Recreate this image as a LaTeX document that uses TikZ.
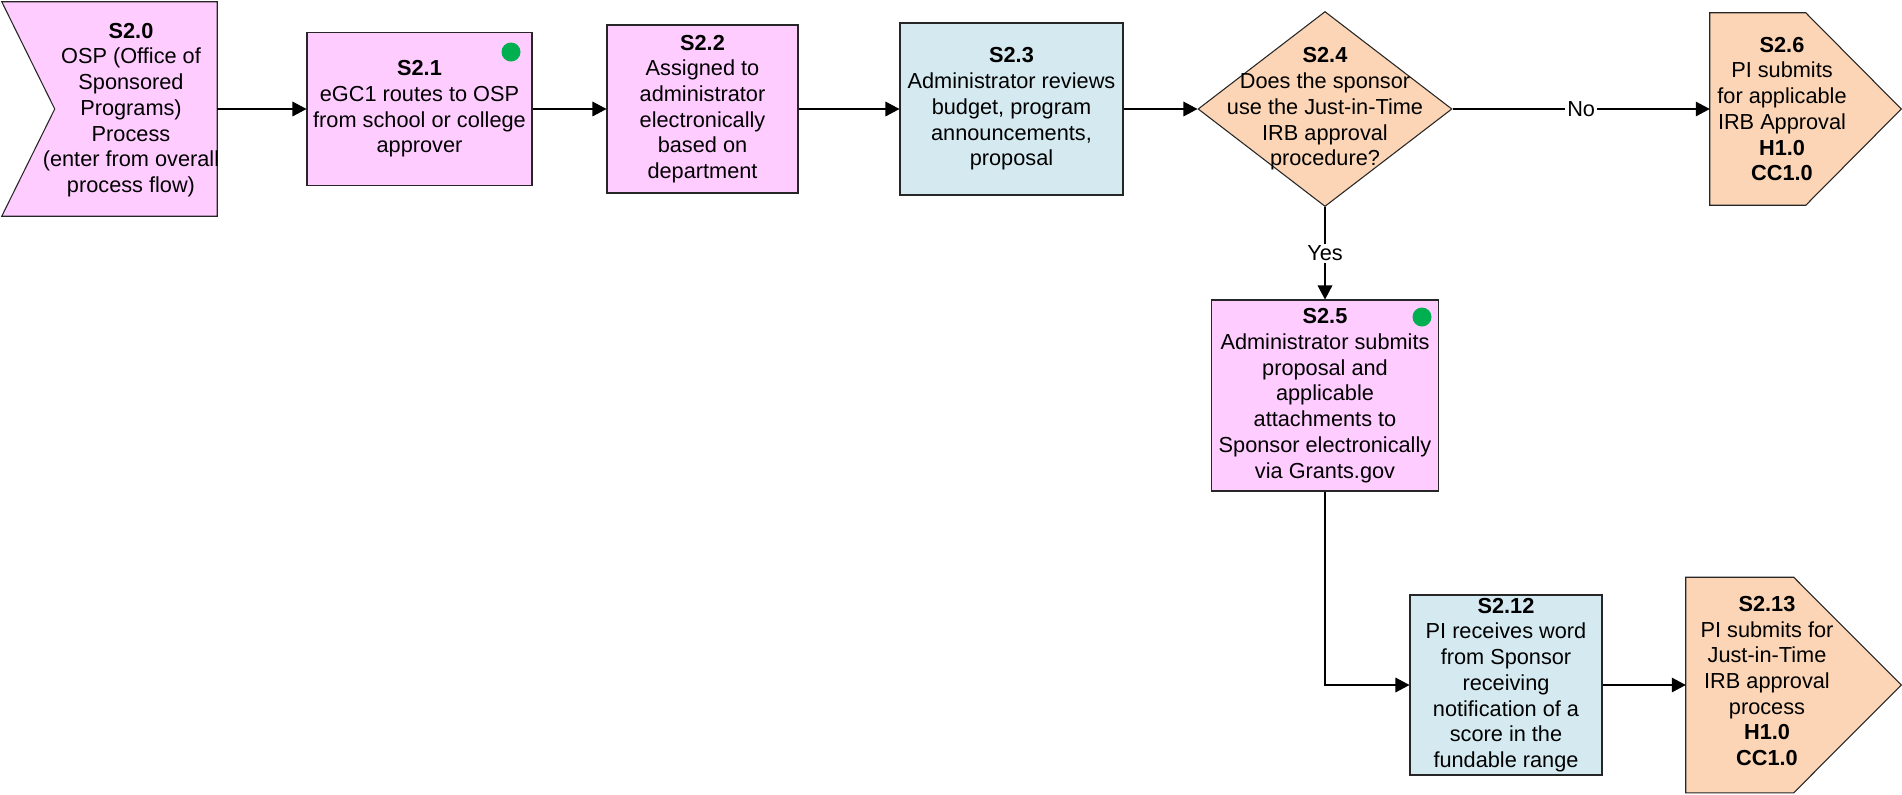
\documentclass[tikz,border=0pt]{standalone}
\usepackage{fontspec}
\setmainfont{Liberation Sans}
\usetikzlibrary{shapes.geometric,arrows.meta}
\definecolor{stepPink}{HTML}{FFCCFF}
\definecolor{stepBlue}{HTML}{D4EAF0}
\definecolor{stepPeach}{HTML}{FBD5B5}
\definecolor{dotGreen}{HTML}{00B050}

\begin{document}
\begin{tikzpicture}[x=0.75pt,y=-0.75pt,
  font=\fontsize{16.3}{19.3}\selectfont,
  outline/.style={draw=black!85, line width=0.8pt},
  boxsize/.style 2 args={minimum width=#1*0.75pt, minimum height=#2*0.75pt, inner sep=0pt},
  task/.style={rectangle, outline, align=center},
  stepframe/.style={rectangle, inner sep=0pt},
  steptext/.style={align=center, inner sep=0pt},
  flow/.style={-{Triangle[length=10.5pt,width=11pt]}, line width=0.8pt},
  answer/.style={fill=white, inner sep=1.5pt},
  greendot/.style={circle, fill=dotGreen, minimum size=14.25pt, inner sep=0pt},
]
\useasboundingbox (0,0) rectangle (1902,794);

% S2.0 : entry step, notched on the left
\node[stepframe, boxsize={215}{214}] (s20) at (109.5,109) {};
\path[outline, fill=stepPink] (s20.north west) -- (s20.north east) -- (s20.south east)
  -- (s20.south west) -- ([xshift=39.75pt]s20.west) -- cycle;
\node[steptext] (s20t) at (131,110)
  {\textbf{S2.0}\\OSP (Office of\\Sponsored\\Programs)\\Process\\(enter from overall\\process flow)};

% S2.1
\node[task, fill=stepPink, boxsize={225}{153}] (s21) at (419.5,109)
  {\textbf{S2.1}\\eGC1 routes to OSP\\from school or college\\approver};
\node[greendot] (d21) at (511,52) {};

% S2.2
\node[task, fill=stepPink, boxsize={191}{168}] (s22) at (702.5,109)
  {\textbf{S2.2}\\Assigned to\\administrator\\electronically\\based on\\department};

% S2.3
\node[task, fill=stepBlue, boxsize={223}{172}] (s23) at (1011.5,109)
  {\textbf{S2.3}\\Administrator reviews\\budget, program\\announcements,\\proposal};

% S2.4 : decision
\node[diamond, outline, fill=stepPeach, boxsize={254}{195}] (s24) at (1325,109) {};
\node[steptext] (s24t) at (1325,109)
  {\textbf{S2.4}\\Does the sponsor\\use the Just-in-Time\\IRB approval\\procedure?};

% S2.6 : exit step, pointed on the right
\node[stepframe, boxsize={191}{192}] (s26) at (1805.5,109) {};
\path[outline, fill=stepPeach] (s26.north west) -- ([xshift=72pt]s26.north west)
  -- (s26.east) -- ([xshift=72pt]s26.south west) -- (s26.south west) -- cycle;
\node[steptext] (s26t) at (1782,109)
  {\textbf{S2.6}\\PI submits\\for applicable\\IRB Approval\\\textbf{H1.0}\\\textbf{CC1.0}};

% S2.5
\node[task, fill=stepPink, boxsize={227}{191}] (s25) at (1325,395.5)
  {\textbf{S2.5}\\Administrator submits\\proposal and\\applicable\\attachments to\\Sponsor electronically\\via Grants.gov};
\node[greendot] (d25) at (1422,317) {};

% S2.12
\node[task, fill=stepBlue, boxsize={192}{180}] (s212) at (1506,685)
  {\textbf{S2.12}\\PI receives word\\from Sponsor\\receiving\\notification of a\\score in the\\fundable range};

% S2.13 : exit step, pointed on the right
\node[stepframe, boxsize={215}{215}] (s213) at (1793.5,685) {};
\path[outline, fill=stepPeach] (s213.north west) -- ([xshift=81pt]s213.north west)
  -- (s213.east) -- ([xshift=81pt]s213.south west) -- (s213.south west) -- cycle;
\node[steptext] (s213t) at (1767,681)
  {\textbf{S2.13}\\PI submits for\\Just-in-Time\\IRB approval\\process\\\textbf{H1.0}\\\textbf{CC1.0}};

% connectors
\draw[flow] (s20.east) -- (s21.west);
\draw[flow] (s21.east) -- (s22.west);
\draw[flow] (s22.east) -- (s23.west);
\draw[flow] (s23.east) -- (s24.west);
\draw[flow] (s24.east) -- node[answer] (no) {No} (s26.west);
\draw[flow] (s24.south) -- node[answer] (yes) {Yes} (s25.north);
\draw[flow] (s25.south) |- (s212.west);
\draw[flow] (s212.east) -- (s213.west);
\end{tikzpicture}
\end{document}
